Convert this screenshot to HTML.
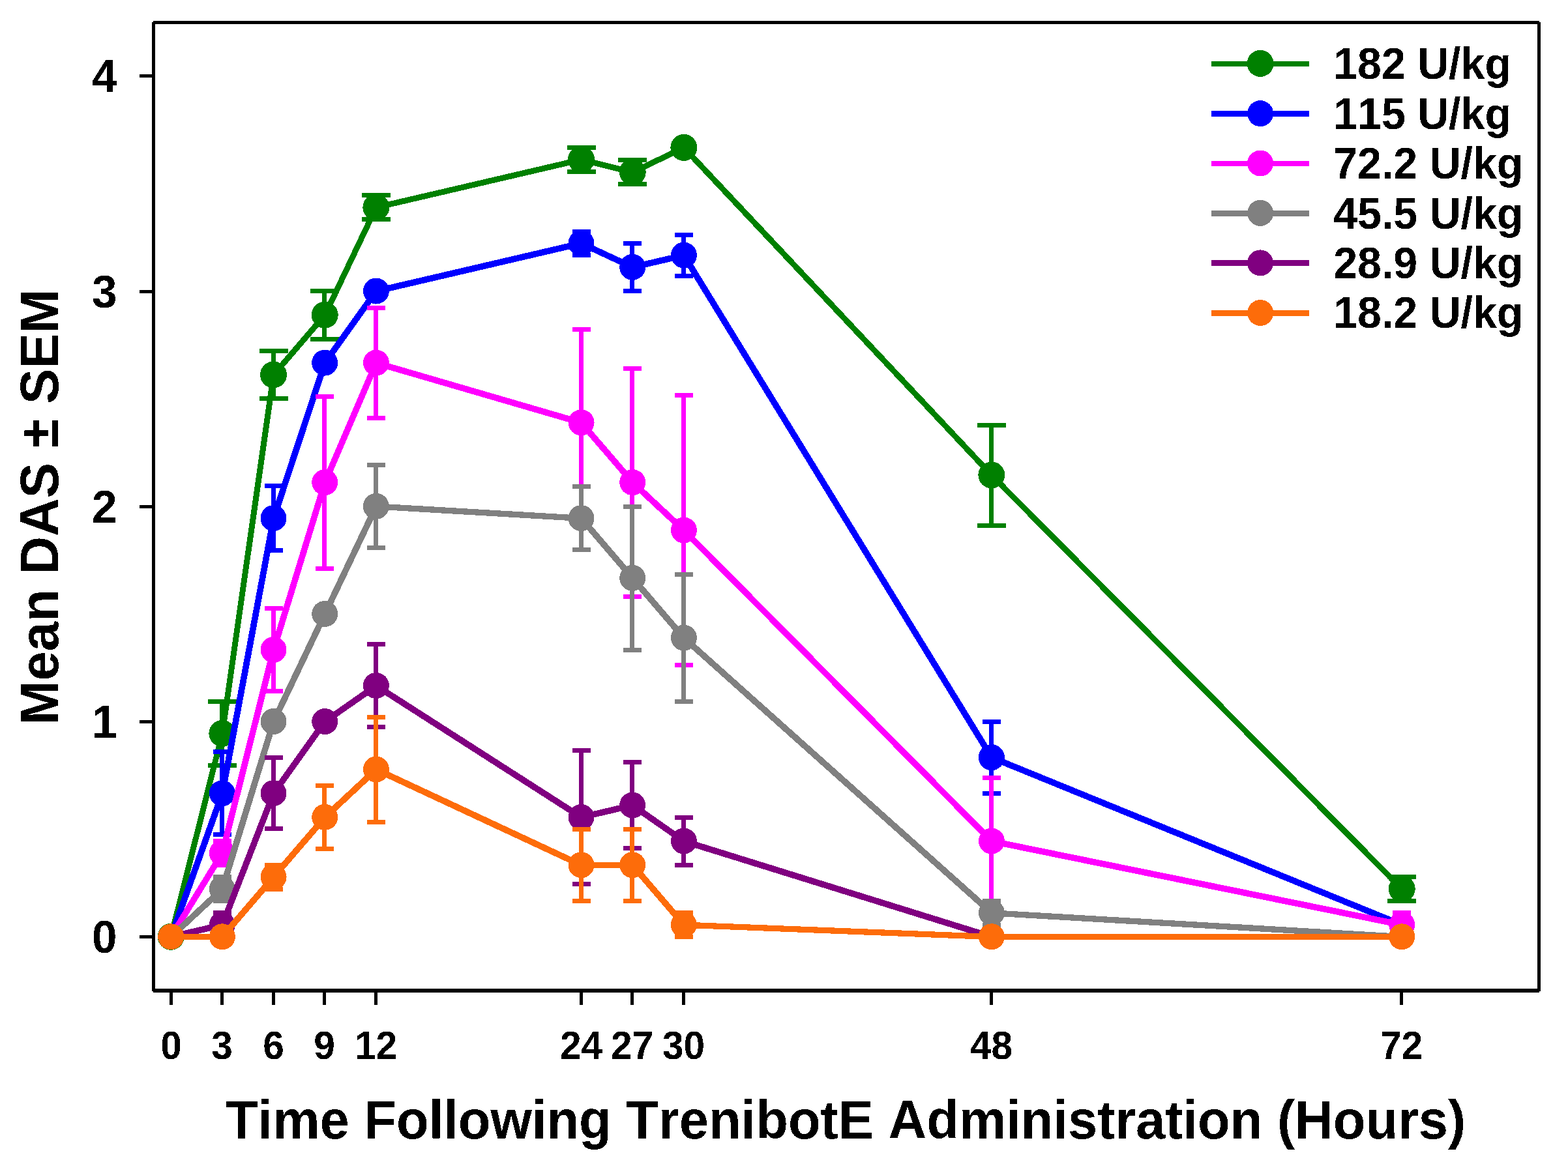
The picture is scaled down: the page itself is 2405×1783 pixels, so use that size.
<!DOCTYPE html>
<html lang="en">
<head>
<meta charset="utf-8">
<title>Mean DAS ± SEM vs Time Following TrenibotE Administration</title>
<style>
html,body{margin:0;padding:0;background:#fff;}
body{width:2405px;height:1783px;overflow:hidden;}
svg{display:block;}
text{filter:url(#hard);}
text{font-family:"Liberation Sans",sans-serif;font-weight:bold;fill:#000;font-kerning:none;}
.ytick{font-size:69.2px;text-anchor:middle;}
.xtick{font-size:58.6px;text-anchor:middle;}
.title{font-size:81.35px;text-anchor:middle;}
.legend{font-size:66.3px;text-anchor:start;}
.ax{fill:#000;stroke:none;}
</style>
</head>
<body>
<svg width="2405" height="1783" viewBox="0 0 2405 1783" shape-rendering="crispEdges">
<defs><filter id="hard" x="-5%" y="-20%" width="110%" height="140%" color-interpolation-filters="sRGB"><feComponentTransfer><feFuncA type="discrete" tableValues="0 1"/></feComponentTransfer></filter></defs>
<rect x="0" y="0" width="2405" height="1783" fill="#ffffff"/>
<g class="ax" shape-rendering="crispEdges">
<rect x="235" y="32" width="2126" height="5"/>
<rect x="235" y="1517" width="2126" height="6"/>
<rect x="233" y="34" width="5" height="1487"/>
<rect x="2358" y="34" width="5" height="1487"/>
<rect x="214" y="1435" width="20" height="5"/>
<rect x="214" y="1105" width="20" height="5"/>
<rect x="214" y="775" width="20" height="5"/>
<rect x="214" y="445" width="20" height="5"/>
<rect x="214" y="114" width="20" height="5"/>
<rect x="260" y="1522" width="5" height="20"/>
<rect x="338" y="1522" width="5" height="20"/>
<rect x="417" y="1522" width="5" height="20"/>
<rect x="495" y="1522" width="5" height="20"/>
<rect x="574" y="1522" width="5" height="20"/>
<rect x="889" y="1522" width="5" height="20"/>
<rect x="967" y="1522" width="5" height="20"/>
<rect x="1046" y="1522" width="5" height="20"/>
<rect x="1518" y="1522" width="5" height="20"/>
<rect x="2147" y="1522" width="5" height="20"/>
</g>
<g>
<text class="ytick" transform="translate(160.3 1462.1) scale(1 1.02)">0</text>
<text class="ytick" transform="translate(160.3 1132.1) scale(1 1.02)">1</text>
<text class="ytick" transform="translate(160.3 802.1) scale(1 1.02)">2</text>
<text class="ytick" transform="translate(160.3 472.1) scale(1 1.02)">3</text>
<text class="ytick" transform="translate(160.3 141.1) scale(1 1.02)">4</text>
<text class="xtick" transform="translate(262.5 1625.2) scale(1 1.03)">0</text>
<text class="xtick" transform="translate(340.5 1625.2) scale(1 1.03)">3</text>
<text class="xtick" transform="translate(419.5 1625.2) scale(1 1.03)">6</text>
<text class="xtick" transform="translate(497.5 1625.2) scale(1 1.03)">9</text>
<text class="xtick" transform="translate(576.5 1625.2) scale(1 1.03)">12</text>
<text class="xtick" transform="translate(891.5 1625.2) scale(1 1.03)">24</text>
<text class="xtick" transform="translate(969.5 1625.2) scale(1 1.03)">27</text>
<text class="xtick" transform="translate(1048.5 1625.2) scale(1 1.03)">30</text>
<text class="xtick" transform="translate(1520.5 1625.2) scale(1 1.03)">48</text>
<text class="xtick" transform="translate(2149.5 1625.2) scale(1 1.03)">72</text>
</g>
<text class="title" transform="translate(1297 1746.6) scale(1 1.03)">Time Following TrenibotE Administration (Hours)</text>
<text class="title" transform="translate(89.2 778) rotate(-90) scale(1 1.03)">Mean DAS ± SEM</text>
<g fill="#008000" stroke="#008000">
<g stroke="none" shape-rendering="crispEdges">
<rect x="337" y="1073" width="7" height="105"/><rect x="319" y="1073" width="44" height="7"/><rect x="319" y="1171" width="44" height="7"/>
<rect x="416" y="535" width="7" height="80"/><rect x="398" y="535" width="44" height="7"/><rect x="398" y="608" width="44" height="7"/>
<rect x="494" y="443" width="7" height="81"/><rect x="476" y="443" width="44" height="7"/><rect x="476" y="517" width="44" height="7"/>
<rect x="573" y="296" width="7" height="44"/><rect x="555" y="296" width="44" height="7"/><rect x="555" y="333" width="44" height="7"/>
<rect x="888" y="223" width="7" height="44"/><rect x="870" y="223" width="44" height="7"/><rect x="870" y="260" width="44" height="7"/>
<rect x="966" y="242" width="7" height="44"/><rect x="948" y="242" width="44" height="7"/><rect x="948" y="279" width="44" height="7"/>
<rect x="1517" y="649" width="7" height="161"/><rect x="1499" y="649" width="44" height="7"/><rect x="1499" y="803" width="44" height="7"/>
<rect x="2146" y="1342" width="7" height="44"/><rect x="2128" y="1342" width="44" height="7"/><rect x="2128" y="1379" width="44" height="7"/>
</g>
<g fill="none" stroke-linecap="round">
<line x1="262.3" y1="1437.5" x2="340.97" y2="1125.6" stroke-width="8.95"/>
<line x1="340.97" y1="1125.6" x2="419.63" y2="575.18" stroke-width="8.95"/>
<line x1="419.63" y1="575.18" x2="498.3" y2="483.44" stroke-width="8.95"/>
<line x1="498.3" y1="483.44" x2="576.97" y2="318.32" stroke-width="8.95"/>
<line x1="576.97" y1="318.32" x2="891.63" y2="244.93" stroke-width="8.95"/>
<line x1="891.63" y1="244.93" x2="970.3" y2="264.29" stroke-width="8.95"/>
<line x1="970.3" y1="264.29" x2="1048.97" y2="226.58" stroke-width="8.95"/>
<line x1="1048.97" y1="226.58" x2="1520.97" y2="729.11" stroke-width="8.95"/>
<line x1="1520.97" y1="729.11" x2="2150.3" y2="1364.11" stroke-width="8.95"/>
</g>
<g stroke="none">
<circle cx="262.2" cy="1437.3" r="20.5"/>
<circle cx="340.87" cy="1125.4" r="20.5"/>
<circle cx="419.53" cy="574.98" r="20.5"/>
<circle cx="498.2" cy="483.24" r="20.5"/>
<circle cx="576.87" cy="318.12" r="20.5"/>
<circle cx="891.53" cy="244.73" r="20.5"/>
<circle cx="970.2" cy="264.09" r="20.5"/>
<circle cx="1048.87" cy="226.38" r="20.5"/>
<circle cx="1520.87" cy="728.91" r="20.5"/>
<circle cx="2150.2" cy="1363.91" r="20.5"/>
</g>
</g>
<g fill="#0000FF" stroke="#0000FF">
<g stroke="none" shape-rendering="crispEdges">
<rect x="337" y="1150" width="7" height="134"/><rect x="327" y="1150" width="28" height="7"/><rect x="327" y="1277" width="28" height="7"/>
<rect x="416" y="742" width="7" height="106"/><rect x="406" y="742" width="28" height="7"/><rect x="406" y="841" width="28" height="7"/>
<rect x="888" y="352" width="7" height="43"/><rect x="878" y="352" width="28" height="7"/><rect x="878" y="388" width="28" height="7"/>
<rect x="966" y="370" width="7" height="80"/><rect x="956" y="370" width="28" height="7"/><rect x="956" y="443" width="28" height="7"/>
<rect x="1045" y="357" width="7" height="70"/><rect x="1035" y="357" width="28" height="7"/><rect x="1035" y="420" width="28" height="7"/>
<rect x="1517" y="1104" width="7" height="117"/><rect x="1507" y="1104" width="28" height="7"/><rect x="1507" y="1214" width="28" height="7"/>
<rect x="2146" y="1397" width="7" height="44"/><rect x="2136" y="1397" width="28" height="7"/><rect x="2136" y="1434" width="28" height="7"/>
</g>
<g fill="none" stroke-linecap="round">
<line x1="262.3" y1="1437.5" x2="340.97" y2="1217.33" stroke-width="9.65"/>
<line x1="340.97" y1="1217.33" x2="419.63" y2="795.35" stroke-width="9.65"/>
<line x1="419.63" y1="795.35" x2="498.3" y2="556.83" stroke-width="9.65"/>
<line x1="498.3" y1="556.83" x2="576.97" y2="446.75" stroke-width="9.65"/>
<line x1="576.97" y1="446.75" x2="891.63" y2="373.36" stroke-width="9.65"/>
<line x1="891.63" y1="373.36" x2="970.3" y2="410.06" stroke-width="9.65"/>
<line x1="970.3" y1="410.06" x2="1048.97" y2="391.71" stroke-width="9.65"/>
<line x1="1048.97" y1="391.71" x2="1520.97" y2="1162.29" stroke-width="9.65"/>
<line x1="1520.97" y1="1162.29" x2="2150.3" y2="1419.15" stroke-width="9.65"/>
</g>
<g stroke="none">
<circle cx="262.2" cy="1437.3" r="20"/>
<circle cx="340.87" cy="1217.13" r="20"/>
<circle cx="419.53" cy="795.15" r="20"/>
<circle cx="498.2" cy="556.63" r="20"/>
<circle cx="576.87" cy="446.55" r="20"/>
<circle cx="891.53" cy="373.16" r="20"/>
<circle cx="970.2" cy="409.86" r="20"/>
<circle cx="1048.87" cy="391.51" r="20"/>
<circle cx="1520.87" cy="1162.09" r="20"/>
<circle cx="2150.2" cy="1418.95" r="20"/>
</g>
</g>
<g fill="#FF00FF" stroke="#FF00FF">
<g stroke="none" shape-rendering="crispEdges">
<rect x="337" y="1287" width="7" height="44"/><rect x="327" y="1287" width="28" height="7"/><rect x="327" y="1324" width="28" height="7"/>
<rect x="416" y="930" width="7" height="134"/><rect x="406" y="930" width="28" height="7"/><rect x="406" y="1057" width="28" height="7"/>
<rect x="494" y="605" width="7" height="271"/><rect x="484" y="605" width="28" height="7"/><rect x="484" y="869" width="28" height="7"/>
<rect x="573" y="469" width="7" height="176"/><rect x="563" y="469" width="28" height="7"/><rect x="563" y="638" width="28" height="7"/>
<rect x="888" y="502" width="7" height="293"/><rect x="878" y="502" width="28" height="7"/><rect x="878" y="788" width="28" height="7"/>
<rect x="966" y="562" width="7" height="357"/><rect x="956" y="562" width="28" height="7"/><rect x="956" y="912" width="28" height="7"/>
<rect x="1045" y="603" width="7" height="421"/><rect x="1035" y="603" width="28" height="7"/><rect x="1035" y="1017" width="28" height="7"/>
<rect x="1517" y="1190" width="7" height="201"/><rect x="1507" y="1190" width="28" height="7"/><rect x="1507" y="1384" width="28" height="7"/>
<rect x="2146" y="1397" width="7" height="44"/><rect x="2136" y="1397" width="28" height="7"/><rect x="2136" y="1434" width="28" height="7"/>
</g>
<g fill="none" stroke-linecap="round">
<line x1="262.3" y1="1437.5" x2="340.97" y2="1309.07" stroke-width="9.65"/>
<line x1="340.97" y1="1309.07" x2="419.63" y2="997.17" stroke-width="9.65"/>
<line x1="419.63" y1="997.17" x2="498.3" y2="740.31" stroke-width="9.65"/>
<line x1="498.3" y1="740.31" x2="576.97" y2="556.83" stroke-width="9.65"/>
<line x1="576.97" y1="556.83" x2="891.63" y2="648.57" stroke-width="9.65"/>
<line x1="891.63" y1="648.57" x2="970.3" y2="740.31" stroke-width="9.65"/>
<line x1="970.3" y1="740.31" x2="1048.97" y2="813.69" stroke-width="9.65"/>
<line x1="1048.97" y1="813.69" x2="1520.97" y2="1290.72" stroke-width="9.65"/>
<line x1="1520.97" y1="1290.72" x2="2150.3" y2="1419.15" stroke-width="9.65"/>
</g>
<g stroke="none">
<circle cx="262.2" cy="1437.3" r="20"/>
<circle cx="340.87" cy="1308.87" r="20"/>
<circle cx="419.53" cy="996.97" r="20"/>
<circle cx="498.2" cy="740.11" r="20"/>
<circle cx="576.87" cy="556.63" r="20"/>
<circle cx="891.53" cy="648.37" r="20"/>
<circle cx="970.2" cy="740.11" r="20"/>
<circle cx="1048.87" cy="813.49" r="20"/>
<circle cx="1520.87" cy="1290.52" r="20"/>
<circle cx="2150.2" cy="1418.95" r="20"/>
</g>
</g>
<g fill="#808080" stroke="#808080">
<g stroke="none" shape-rendering="crispEdges">
<rect x="337" y="1342" width="7" height="44"/><rect x="327" y="1342" width="28" height="7"/><rect x="327" y="1379" width="28" height="7"/>
<rect x="573" y="710" width="7" height="134"/><rect x="563" y="710" width="28" height="7"/><rect x="563" y="837" width="28" height="7"/>
<rect x="888" y="743" width="7" height="104"/><rect x="878" y="743" width="28" height="7"/><rect x="878" y="840" width="28" height="7"/>
<rect x="966" y="774" width="7" height="227"/><rect x="956" y="774" width="28" height="7"/><rect x="956" y="994" width="28" height="7"/>
<rect x="1045" y="878" width="7" height="202"/><rect x="1035" y="878" width="28" height="7"/><rect x="1035" y="1073" width="28" height="7"/>
<rect x="1517" y="1379" width="7" height="44"/><rect x="1507" y="1379" width="28" height="7"/><rect x="1507" y="1416" width="28" height="7"/>
</g>
<g fill="none" stroke-linecap="round">
<line x1="262.3" y1="1437.5" x2="340.97" y2="1364.11" stroke-width="9.65"/>
<line x1="340.97" y1="1364.11" x2="419.63" y2="1107.25" stroke-width="9.65"/>
<line x1="419.63" y1="1107.25" x2="498.3" y2="942.12" stroke-width="9.65"/>
<line x1="498.3" y1="942.12" x2="576.97" y2="777" stroke-width="9.65"/>
<line x1="576.97" y1="777" x2="891.63" y2="795.35" stroke-width="9.3"/>
<line x1="891.63" y1="795.35" x2="970.3" y2="887.08" stroke-width="9.65"/>
<line x1="970.3" y1="887.08" x2="1048.97" y2="978.82" stroke-width="9.65"/>
<line x1="1048.97" y1="978.82" x2="1520.97" y2="1400.81" stroke-width="9.65"/>
<line x1="1520.97" y1="1400.81" x2="2150.3" y2="1437.5" stroke-width="9.3"/>
</g>
<g stroke="none">
<circle cx="262.2" cy="1437.3" r="20"/>
<circle cx="340.87" cy="1363.91" r="20"/>
<circle cx="419.53" cy="1107.05" r="20"/>
<circle cx="498.2" cy="941.92" r="20"/>
<circle cx="576.87" cy="776.8" r="20"/>
<circle cx="891.53" cy="795.15" r="20"/>
<circle cx="970.2" cy="886.88" r="20"/>
<circle cx="1048.87" cy="978.62" r="20"/>
<circle cx="1520.87" cy="1400.61" r="20"/>
<circle cx="2150.2" cy="1437.3" r="20"/>
</g>
</g>
<g fill="#800080" stroke="#800080">
<g stroke="none" shape-rendering="crispEdges">
<rect x="337" y="1397" width="7" height="44"/><rect x="327" y="1397" width="28" height="7"/><rect x="327" y="1434" width="28" height="7"/>
<rect x="416" y="1159" width="7" height="116"/><rect x="406" y="1159" width="28" height="7"/><rect x="406" y="1268" width="28" height="7"/>
<rect x="573" y="985" width="7" height="134"/><rect x="563" y="985" width="28" height="7"/><rect x="563" y="1112" width="28" height="7"/>
<rect x="888" y="1148" width="7" height="212"/><rect x="878" y="1148" width="28" height="7"/><rect x="878" y="1353" width="28" height="7"/>
<rect x="966" y="1166" width="7" height="139"/><rect x="956" y="1166" width="28" height="7"/><rect x="956" y="1298" width="28" height="7"/>
<rect x="1045" y="1251" width="7" height="80"/><rect x="1035" y="1251" width="28" height="7"/><rect x="1035" y="1324" width="28" height="7"/>
</g>
<g fill="none" stroke-linecap="round">
<line x1="262.3" y1="1437.5" x2="340.97" y2="1419.15" stroke-width="9.65"/>
<line x1="340.97" y1="1419.15" x2="419.63" y2="1217.33" stroke-width="9.65"/>
<line x1="419.63" y1="1217.33" x2="498.3" y2="1107.25" stroke-width="9.65"/>
<line x1="498.3" y1="1107.25" x2="576.97" y2="1052.21" stroke-width="9.65"/>
<line x1="576.97" y1="1052.21" x2="891.63" y2="1254.03" stroke-width="9.65"/>
<line x1="891.63" y1="1254.03" x2="970.3" y2="1235.68" stroke-width="9.65"/>
<line x1="970.3" y1="1235.68" x2="1048.97" y2="1290.72" stroke-width="9.65"/>
<line x1="1048.97" y1="1290.72" x2="1520.97" y2="1437.5" stroke-width="9.65"/>
<line x1="1520.97" y1="1437.5" x2="2150.3" y2="1437.5" stroke-width="9"/>
</g>
<g stroke="none">
<circle cx="262.2" cy="1437.3" r="20"/>
<circle cx="340.87" cy="1418.95" r="20"/>
<circle cx="419.53" cy="1217.13" r="20"/>
<circle cx="498.2" cy="1107.05" r="20"/>
<circle cx="576.87" cy="1052.01" r="20"/>
<circle cx="891.53" cy="1253.83" r="20"/>
<circle cx="970.2" cy="1235.48" r="20"/>
<circle cx="1048.87" cy="1290.52" r="20"/>
<circle cx="1520.87" cy="1437.3" r="20"/>
<circle cx="2150.2" cy="1437.3" r="20"/>
</g>
</g>
<g fill="#FD6C0A" stroke="#FD6C0A">
<g stroke="none" shape-rendering="crispEdges">
<rect x="416" y="1324" width="7" height="44"/><rect x="406" y="1324" width="28" height="7"/><rect x="406" y="1361" width="28" height="7"/>
<rect x="494" y="1202" width="7" height="104"/><rect x="484" y="1202" width="28" height="7"/><rect x="484" y="1299" width="28" height="7"/>
<rect x="573" y="1097" width="7" height="168"/><rect x="563" y="1097" width="28" height="7"/><rect x="563" y="1258" width="28" height="7"/>
<rect x="888" y="1269" width="7" height="117"/><rect x="878" y="1269" width="28" height="7"/><rect x="878" y="1379" width="28" height="7"/>
<rect x="966" y="1269" width="7" height="117"/><rect x="956" y="1269" width="28" height="7"/><rect x="956" y="1379" width="28" height="7"/>
<rect x="1045" y="1397" width="7" height="44"/><rect x="1035" y="1397" width="28" height="7"/><rect x="1035" y="1434" width="28" height="7"/>
</g>
<g fill="none" stroke-linecap="round">
<line x1="262.3" y1="1437.5" x2="340.97" y2="1437.5" stroke-width="9"/>
<line x1="340.97" y1="1437.5" x2="419.63" y2="1345.76" stroke-width="9.65"/>
<line x1="419.63" y1="1345.76" x2="498.3" y2="1254.03" stroke-width="9.65"/>
<line x1="498.3" y1="1254.03" x2="576.97" y2="1180.64" stroke-width="9.65"/>
<line x1="576.97" y1="1180.64" x2="891.63" y2="1327.42" stroke-width="9.65"/>
<line x1="891.63" y1="1327.42" x2="970.3" y2="1327.42" stroke-width="9"/>
<line x1="970.3" y1="1327.42" x2="1048.97" y2="1419.15" stroke-width="9.65"/>
<line x1="1048.97" y1="1419.15" x2="1520.97" y2="1437.5" stroke-width="9.2"/>
<line x1="1520.97" y1="1437.5" x2="2150.3" y2="1437.5" stroke-width="9"/>
</g>
<g stroke="none">
<circle cx="262.2" cy="1437.3" r="20"/>
<circle cx="340.87" cy="1437.3" r="20"/>
<circle cx="419.53" cy="1345.56" r="20"/>
<circle cx="498.2" cy="1253.83" r="20"/>
<circle cx="576.87" cy="1180.44" r="20"/>
<circle cx="891.53" cy="1327.22" r="20"/>
<circle cx="970.2" cy="1327.22" r="20"/>
<circle cx="1048.87" cy="1418.95" r="20"/>
<circle cx="1520.87" cy="1437.3" r="20"/>
<circle cx="2150.2" cy="1437.3" r="20"/>
</g>
</g>
<g fill="#008000" stroke="none">
<rect x="1858" y="94" width="150" height="8"/>
<circle cx="1933.1" cy="97.4" r="20.5"/>
</g>
<text class="legend" transform="translate(2045.2 121.3) scale(1 1.03)">182 U/kg</text>
<g fill="#0000FF" stroke="none">
<rect x="1858" y="170" width="150" height="9"/>
<circle cx="1933.1" cy="174.1" r="20"/>
</g>
<text class="legend" transform="translate(2045.2 197.7) scale(1 1.03)">115 U/kg</text>
<g fill="#FF00FF" stroke="none">
<rect x="1858" y="247" width="150" height="8"/>
<circle cx="1933.1" cy="250.5" r="20"/>
</g>
<text class="legend" transform="translate(2045.2 274.1) scale(1 1.03)">72.2 U/kg</text>
<g fill="#808080" stroke="none">
<rect x="1858" y="323" width="150" height="9"/>
<circle cx="1933.1" cy="326.9" r="20"/>
</g>
<text class="legend" transform="translate(2045.2 350.5) scale(1 1.03)">45.5 U/kg</text>
<g fill="#800080" stroke="none">
<rect x="1858" y="399" width="150" height="9"/>
<circle cx="1933.1" cy="403.4" r="20"/>
</g>
<text class="legend" transform="translate(2045.2 426.9) scale(1 1.03)">28.9 U/kg</text>
<g fill="#FD6C0A" stroke="none">
<rect x="1858" y="476" width="150" height="9"/>
<circle cx="1933.1" cy="480" r="20"/>
</g>
<text class="legend" transform="translate(2045.2 503.3) scale(1 1.03)">18.2 U/kg</text>
</svg>
</body>
</html>
